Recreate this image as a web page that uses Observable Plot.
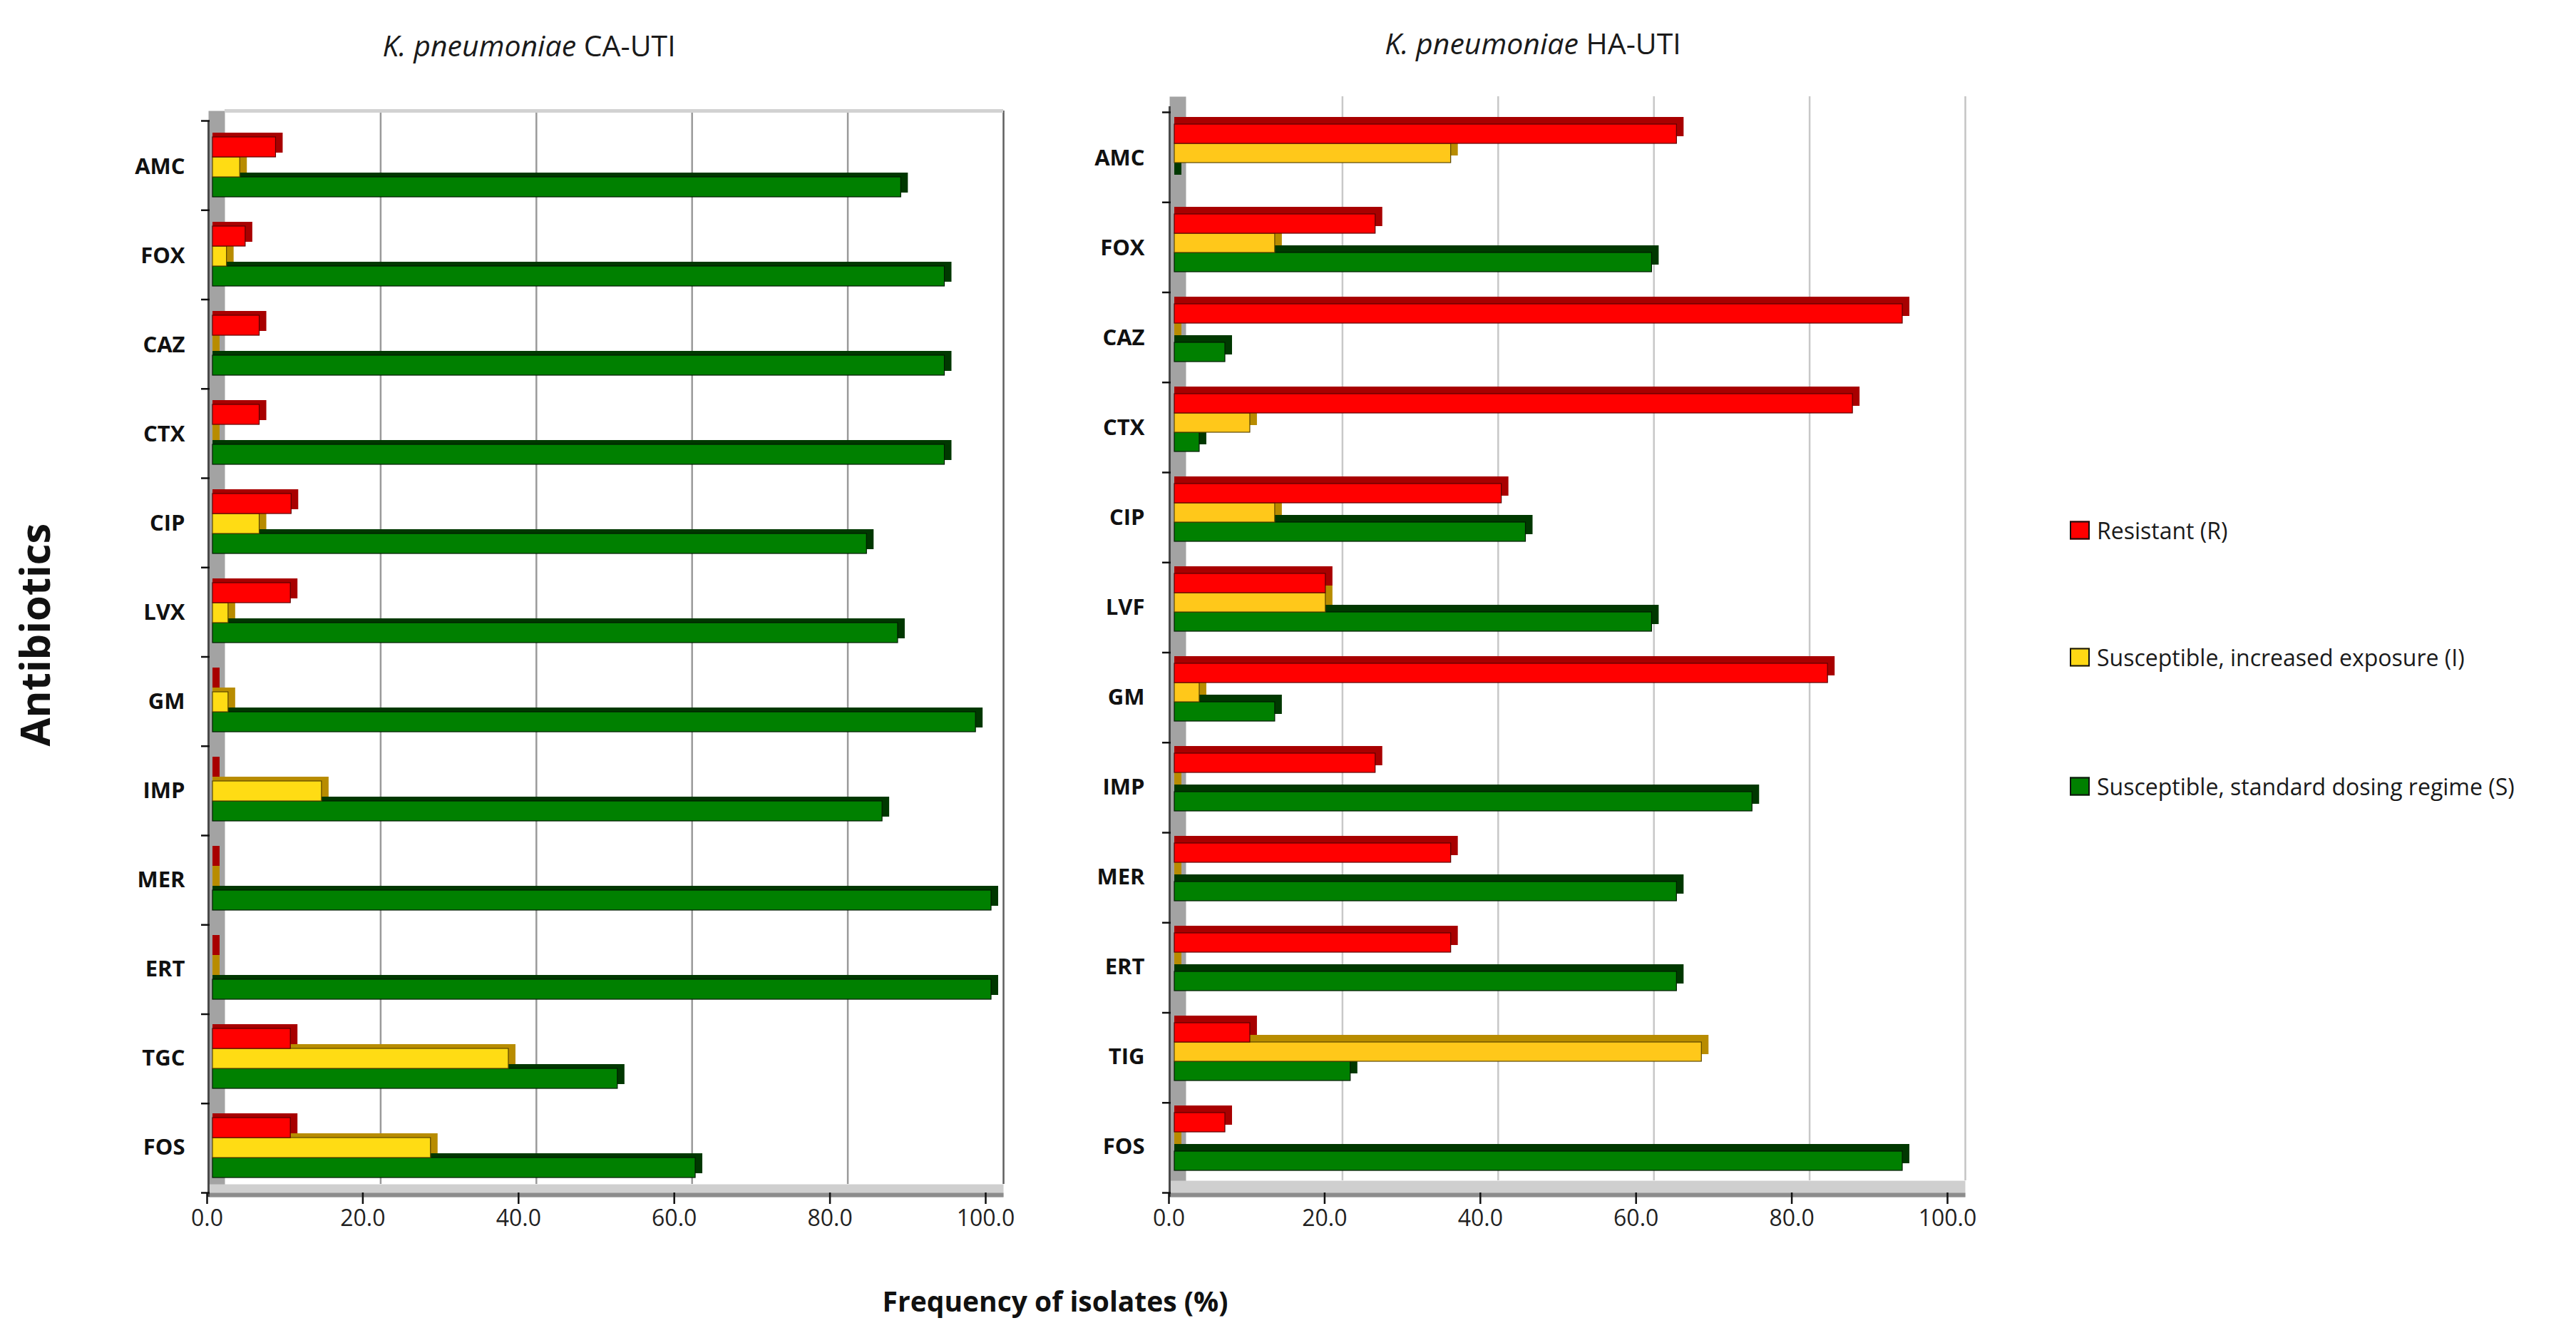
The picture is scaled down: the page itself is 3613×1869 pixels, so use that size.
<!DOCTYPE html>
<html>
<head>
<meta charset="utf-8">
<script src="https://cdn.jsdelivr.net/npm/d3@7"></script>
<script src="https://cdn.jsdelivr.net/npm/@observablehq/plot@0.6"></script>
<style>
html, body { margin: 0; padding: 0; background: #fff; }
#root { position: relative; width: 3613px; height: 1869px; overflow: hidden; font-family: "Open Sans", sans-serif; color: #1a1a1a; }
.layer { position: absolute; }
.layer svg { max-width: none !important; }
.title { position: absolute; font-size: 41px; white-space: nowrap; transform: translate(-50%, -50%); color: #1a1a1a; }
.axis-title { position: absolute; font-weight: 700; white-space: nowrap; color: #111; }
.legend-item { position: absolute; display: flex; align-items: center; font-size: 32px; white-space: nowrap; color: #1a1a1a; transform: translateY(-50%); }
.legend-item .sw { width: 24px; height: 22px; border: 2px solid #111; margin-right: 10px; }
</style>
</head>
<body>
<div id="root"></div>
<script>
// ---------- data ----------
const antibioticsCA = ["AMC","FOX","CAZ","CTX","CIP","LVX","GM","IMP","MER","ERT","TGC","FOS"];
const resistantCA    = [8.1, 4.2, 6.0, 6.0, 10.1, 10.0, 0, 0, 0, 0, 10.0, 10.0];
const intermediateCA = [3.5, 1.8, 0, 0, 6.0, 2.0, 2.0, 14.0, 0, 0, 38.0, 28.0];
const susceptibleCA  = [88.4, 94.0, 94.0, 94.0, 84.0, 88.0, 98.0, 86.0, 100, 100, 52.0, 62.0];

const antibioticsHA = ["AMC","FOX","CAZ","CTX","CIP","LVF","GM","IMP","MER","ERT","TIG","FOS"];
const resistantHA    = [64.5, 25.8, 93.5, 87.1, 42.0, 19.4, 83.9, 25.8, 35.5, 35.5, 9.7, 6.5];
const intermediateHA = [35.5, 12.9, 0, 9.7, 12.9, 19.4, 3.2, 0, 0, 0, 67.7, 0];
const susceptibleHA  = [0, 61.3, 6.5, 3.2, 45.1, 61.3, 12.9, 74.2, 64.5, 64.5, 22.6, 93.5];

const seriesKeys   = ["R", "I", "S"];
const seriesLabels = ["Resistant (R)", "Susceptible, increased exposure (I)", "Susceptible, standard dosing regime (S)"];
const xTicks = [0, 20, 40, 60, 80, 100];
const panelTitles = ["CA-UTI", "HA-UTI"];
const species = "K. pneumoniae";
const yTitle = "Antibiotics";
const xTitle = "Frequency of isolates (%)";

// ---------- styles ----------
const frontColor  = {R: "#ff0000", I: "#ffd814", S: "#008000"};
const shadeColor  = {R: "#a80000", I: "#b88c00", S: "#003800"};
const edgeColor   = {R: "#5a0000", I: "#5a4600", S: "#001a00"};

const root = document.getElementById("root");

function makeRows(names, R, I, S) {
  return names.flatMap((a, i) => [
    {antibiotic: a, series: "R", value: R[i]},
    {antibiotic: a, series: "I", value: I[i]},
    {antibiotic: a, series: "S", value: S[i]}
  ]);
}

function panel(cfg) {
  const {names, rows, left, width, height, mLeft, mTop, mBottom, mRight,
         insetL, insetR, back, wall, gridTop, gridBottom, depthX, depthY,
         gridColor, edgeLine, padOuter, align, labelPad, topLine, yellow} = cfg;
  const innerW = width - mLeft - mRight;
  const innerH = height - mTop - mBottom;
  const xScale = {domain: [0, 100], insetLeft: insetL, insetRight: insetR, axis: null};
  const common = {width, height, marginLeft: mLeft, marginRight: mRight, marginTop: mTop, marginBottom: mBottom};

  // background: walls, floor, grid, axes
  const bgMarks = [
    // side wall
    Plot.frame({fill: "#a3a3a3", stroke: null, insetRight: innerW - wall, insetTop: gridTop, insetBottom: 0}),
    // floor
    Plot.frame({fill: "#cfcfcf", stroke: null, insetTop: innerH - gridBottom, insetBottom: -6}),
    Plot.frame({fill: "#8c8c8c", stroke: null, insetTop: innerH, insetBottom: -6}),
    // back-wall grid lines
    Plot.ruleX(xTicks.slice(1), {x: d => d, dx: back, insetTop: gridTop, insetBottom: gridBottom,
      stroke: d => d === 100 ? edgeLine : gridColor, strokeWidth: 2.5})
  ];
  if (topLine) {
    bgMarks.push(Plot.ruleY([0], {y: d => d, dy: gridTop, insetLeft: wall, stroke: "#d2d2d2", strokeWidth: 5}));
  }
  bgMarks.push(
    // vertical axis line on the wall edge
    Plot.ruleX([0], {x: d => d, dx: -insetL, insetTop: gridTop + 14, insetBottom: -6, stroke: "#4a4a4a", strokeWidth: 3}),
    // category boundary ticks
    Plot.ruleY(d3.range(names.length + 1), {y: d => d, insetLeft: -10, insetRight: innerW - 2, stroke: "#111", strokeWidth: 2.5}),
    // value axis ticks and labels
    Plot.ruleX(xTicks, {x: d => d, dx: -8, insetTop: innerH, insetBottom: -16, stroke: "#111", strokeWidth: 2.5}),
    Plot.text(xTicks, {x: d => d, text: d => d.toFixed(1), frameAnchor: "bottom", dy: 46, dx: -8,
      fontSize: 32, fill: "#222"})
  );

  const bg = Plot.plot({
    ...common,
    style: {background: "transparent", overflow: "visible", fontFamily: "Open Sans"},
    x: xScale,
    y: {domain: [0, names.length], reverse: true, axis: null},
    marks: bgMarks
  });

  // foreground: 3D-looking bars
  const order = ["S", "I", "R"];
  const fills = {...frontColor, I: yellow};
  const fgMarks = order.flatMap(k => {
    const data = rows.filter(d => d.series === k);
    return [
      Plot.barX(data, {x: "value", y: "series", fy: "antibiotic", fill: shadeColor[k],
        dy: -depthY, insetRight: -depthX}),
      Plot.barX(data, {x: "value", y: "series", fy: "antibiotic", fill: fills[k],
        stroke: edgeColor[k], strokeWidth: 1.2})
    ];
  });

  const fg = Plot.plot({
    ...common,
    style: {background: "transparent", overflow: "visible", fontFamily: "Open Sans",
            fontSize: "31px", fontWeight: "700", color: "#111"},
    x: xScale,
    y: {domain: seriesKeys, axis: null, paddingInner: 0, paddingOuter: padOuter, align},
    fy: {domain: names, padding: 0, axis: "left", label: null, tickSize: 0, tickPadding: labelPad},
    marks: fgMarks
  });

  for (const svg of [bg, fg]) {
    const div = document.createElement("div");
    div.className = "layer";
    div.style.left = left + "px";
    div.style.top = "0px";
    div.appendChild(svg);
    root.appendChild(div);
  }
}

panel({
  names: antibioticsCA,
  rows: makeRows(antibioticsCA, resistantCA, intermediateCA, susceptibleCA),
  left: 0, width: 1450, height: 1800,
  mLeft: 292, mTop: 169, mBottom: 128, mRight: 43,
  insetL: 6, insetR: 17, back: 17, wall: 23,
  gridTop: -14, gridBottom: 12, depthX: 10, depthY: 6,
  gridColor: "#9a9a9a", edgeLine: "#5e5e5e", padOuter: 0.66, align: 0.5, labelPad: 33, topLine: true,
  yellow: "#ffdc14"
});

panel({
  names: antibioticsHA,
  rows: makeRows(antibioticsHA, resistantHA, intermediateHA, susceptibleHA),
  left: 1400, width: 1450, height: 1800,
  mLeft: 240, mTop: 157, mBottom: 128, mRight: 94,
  insetL: 7, insetR: 17, back: 17, wall: 23,
  gridTop: -22, gridBottom: 17, depthX: 10, depthY: 10,
  gridColor: "#c8c8c8", edgeLine: "#c4c4c4", padOuter: 0.78, align: 0.33, labelPad: 35, topLine: false,
  yellow: "#ffc81a"
});

// titles
[[742, 63], [2150, 60]].forEach(([cx, cy], i) => {
  const t = document.createElement("div");
  t.className = "title";
  t.style.left = cx + "px";
  t.style.top = cy + "px";
  t.innerHTML = `<i>${species}</i> ${panelTitles[i]}`;
  root.appendChild(t);
});

// axis titles
const yt = document.createElement("div");
yt.className = "axis-title";
yt.style.fontSize = "58px";
yt.style.left = "47px";
yt.style.top = "890px";
yt.style.transform = "translate(-50%, -50%) rotate(-90deg)";
yt.textContent = yTitle;
root.appendChild(yt);

const xt = document.createElement("div");
xt.className = "axis-title";
xt.style.fontSize = "39px";
xt.style.left = "1480px";
xt.style.top = "1823px";
xt.style.transform = "translate(-50%, -50%)";
xt.textContent = xTitle;
root.appendChild(xt);

// legend
const legendY = [743, 921, 1102];
seriesKeys.forEach((k, i) => {
  const item = document.createElement("div");
  item.className = "legend-item";
  item.style.left = "2903px";
  item.style.top = legendY[i] + "px";
  const sw = document.createElement("div");
  sw.className = "sw";
  sw.style.background = k === "I" ? "#ffd814" : frontColor[k];
  item.appendChild(sw);
  const tx = document.createElement("span");
  tx.textContent = seriesLabels[i];
  item.appendChild(tx);
  root.appendChild(item);
});
</script>
</body>
</html>
